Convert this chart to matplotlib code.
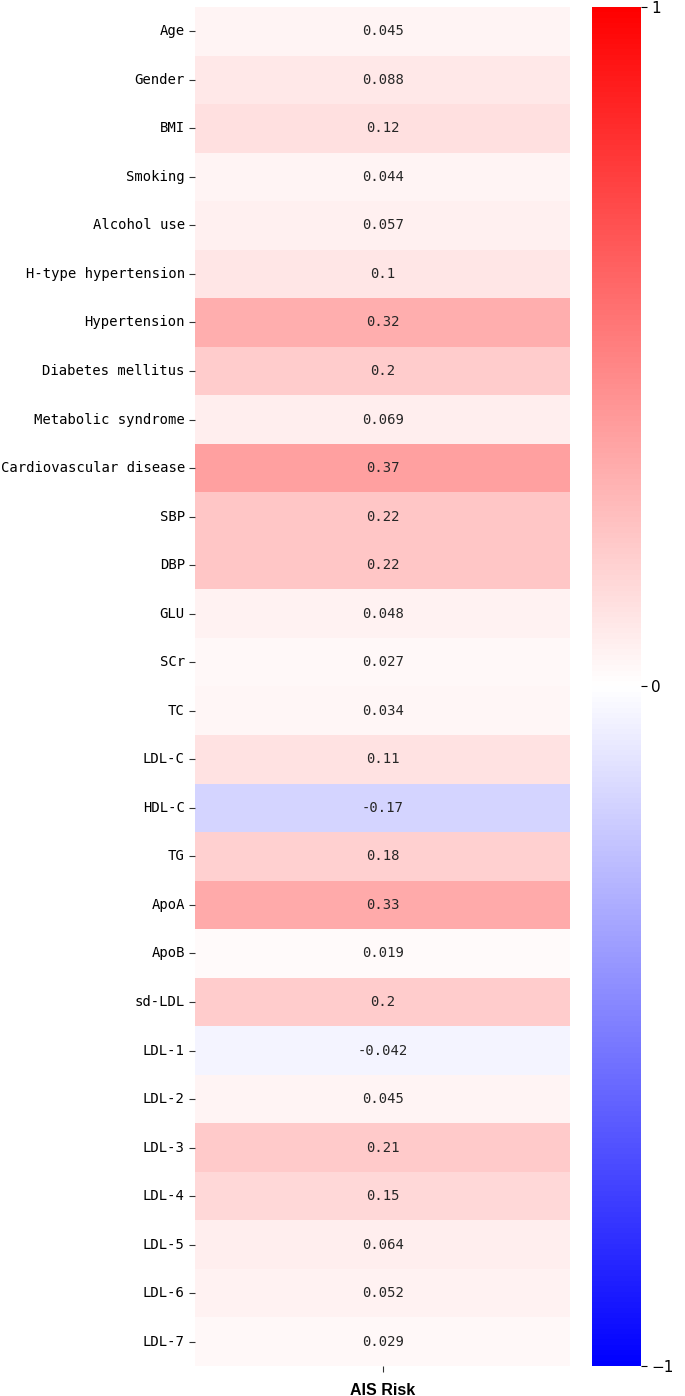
import numpy as np
import matplotlib
matplotlib.use("Agg")
import matplotlib.pyplot as plt
import seaborn as sns

features = ["Age", "Gender", "BMI", "Smoking", "Alcohol use", "H-type hypertension",
            "Hypertension", "Diabetes mellitus", "Metabolic syndrome",
            "Cardiovascular disease", "SBP", "DBP", "GLU", "SCr", "TC", "LDL-C",
            "HDL-C", "TG", "ApoA", "ApoB", "sd-LDL", "LDL-1", "LDL-2", "LDL-3",
            "LDL-4", "LDL-5", "LDL-6", "LDL-7"]
corr = [0.045, 0.088, 0.12, 0.044, 0.057, 0.1, 0.32, 0.2, 0.069, 0.37, 0.22, 0.22,
        0.048, 0.027, 0.034, 0.11, -0.17, 0.18, 0.33, 0.019, 0.2, -0.042, 0.045,
        0.21, 0.15, 0.064, 0.052, 0.029]
target = ["AIS Risk"]

mono = ["DejaVu Sans Mono"]

fig = plt.figure(figsize=(6.85, 13.96), dpi=100)
ax = fig.add_axes([0.285, 0.0215, 0.547, 0.9735])
cax = fig.add_axes([0.864, 0.0215, 0.0715, 0.9735])

data = np.array(corr).reshape(-1, 1)
sns.heatmap(data, ax=ax, cbar_ax=cax, cmap="bwr", vmin=-1, vmax=1, annot=True,
            annot_kws={"fontsize": 10, "family": mono, "color": "#262626"},
            yticklabels=features, xticklabels=target)

ax.set_yticklabels(features, rotation=0, fontsize=10, family=mono)
ax.set_xticklabels(target, fontsize=11.5, fontweight="bold", family="Liberation Sans")
ax.tick_params(axis="both", length=4, width=0.8, color="#333333")
ax.tick_params(axis="x", pad=8)

cax.set_yticks([-1, 0, 1])
cax.set_yticklabels(["\u22121", "0", "1"], fontsize=11)
cax.tick_params(length=4, width=0.8)
for s in cax.spines.values():
    s.set_visible(False)

fig.savefig("out.png", dpi=100)
